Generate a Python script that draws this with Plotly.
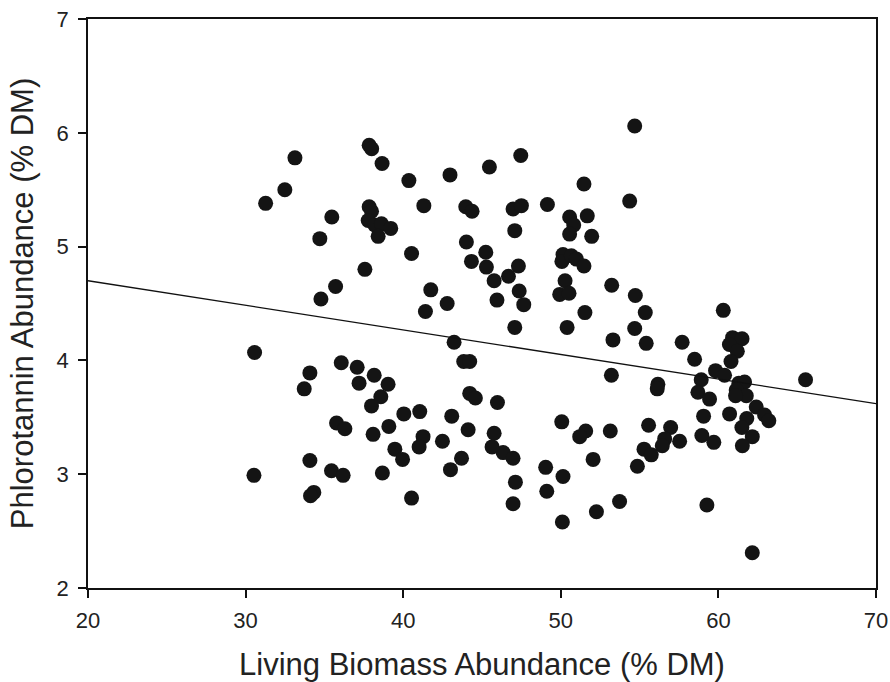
import plotly.graph_objects as go

living_biomass = [
    33.13, 32.49, 31.27, 37.84, 38.0, 38.66, 40.36, 42.97, 45.47, 47.46,
    35.47, 34.71, 37.84, 37.99, 37.78, 38.2, 38.62, 39.21, 38.41, 41.31,
    43.97, 44.37, 46.97, 47.5, 47.08, 44.01, 45.24, 44.33, 45.28, 45.77,
    46.68, 47.31, 40.53, 37.57, 35.71, 34.78, 41.75, 42.79, 41.41, 45.95,
    47.36, 47.65, 47.08, 43.23, 30.57,
    54.69, 51.47, 54.37, 49.15, 50.56, 51.68, 50.82, 50.56, 51.96, 50.14,
    50.07, 50.67, 50.99, 51.47, 50.27, 49.93, 50.52, 53.23, 54.73, 55.36,
    51.53, 50.4, 54.69, 53.31, 55.42, 57.7, 60.31,
    60.9, 61.5, 60.7, 61.2, 60.8, 58.49, 59.82, 60.39, 58.91, 58.70,
    59.44, 61.3, 61.66, 61.13, 61.77, 61.09, 65.53, 62.40, 62.93, 63.2,
    61.80, 61.49, 62.15, 61.52, 60.71, 59.06, 58.95, 59.71, 59.27, 62.15,
    53.21, 56.16, 56.12, 50.06, 51.58, 51.2, 53.14, 55.57, 56.97, 57.54,
    56.59, 56.44, 55.28, 55.74, 54.86, 52.05, 49.04, 50.14, 49.11, 53.73,
    52.26, 50.1, 46.34, 46.97, 47.12, 46.97,
    30.53, 43.84, 44.22, 34.08, 33.72, 36.07, 37.08, 38.16, 37.2, 39.04,
    38.58, 37.99, 40.04, 41.05, 43.08, 44.22, 44.58, 45.98, 35.77, 36.3,
    38.09, 39.09, 39.47, 39.96, 41.26, 41.01, 42.49, 44.12, 45.77, 45.64,
    43.7, 43.0, 34.08, 35.45, 36.19, 38.68, 34.33, 34.12, 40.53,
]

phlorotannin = [
    5.78, 5.50, 5.38, 5.89, 5.86, 5.73, 5.58, 5.63, 5.70, 5.80,
    5.26, 5.07, 5.35, 5.31, 5.23, 5.19, 5.20, 5.16, 5.09, 5.36,
    5.35, 5.31, 5.33, 5.36, 5.14, 5.04, 4.95, 4.87, 4.82, 4.70,
    4.74, 4.83, 4.94, 4.80, 4.65, 4.54, 4.62, 4.50, 4.43, 4.53,
    4.61, 4.49, 4.29, 4.16, 4.07,
    6.06, 5.55, 5.40, 5.37, 5.26, 5.27, 5.19, 5.11, 5.09, 4.93,
    4.87, 4.92, 4.89, 4.83, 4.70, 4.58, 4.59, 4.66, 4.57, 4.42,
    4.42, 4.29, 4.28, 4.18, 4.15, 4.16, 4.44,
    4.20, 4.19, 4.14, 4.08, 3.99, 4.01, 3.91, 3.87, 3.83, 3.72,
    3.66, 3.80, 3.81, 3.74, 3.69, 3.69, 3.83, 3.59, 3.52, 3.47,
    3.49, 3.41, 3.33, 3.25, 3.53, 3.51, 3.34, 3.28, 2.73, 2.31,
    3.87, 3.79, 3.75, 3.46, 3.38, 3.33, 3.38, 3.43, 3.41, 3.29,
    3.31, 3.25, 3.22, 3.17, 3.07, 3.13, 3.06, 2.98, 2.85, 2.76,
    2.67, 2.58, 3.19, 3.14, 2.93, 2.74,
    2.99, 3.99, 3.99, 3.89, 3.75, 3.98, 3.94, 3.87, 3.80, 3.79,
    3.68, 3.60, 3.53, 3.55, 3.51, 3.71, 3.67, 3.63, 3.45, 3.40,
    3.35, 3.42, 3.22, 3.13, 3.33, 3.24, 3.29, 3.39, 3.36, 3.24,
    3.14, 3.04, 3.12, 3.03, 2.99, 3.01, 2.84, 2.81, 2.79,
]

fit_x = [20, 70]
fit_y = [4.70, 3.62]

x_ticks = [20, 30, 40, 50, 60, 70]
y_ticks = [2, 3, 4, 5, 6, 7]

fig = go.Figure()
fig.add_trace(go.Scatter(
    x=living_biomass, y=phlorotannin, mode="markers",
    marker=dict(size=15, color="#141414", line=dict(width=0)),
    showlegend=False, hoverinfo="x+y",
))
fig.add_trace(go.Scatter(
    x=fit_x, y=fit_y, mode="lines",
    line=dict(color="#111111", width=1.3),
    showlegend=False, hoverinfo="skip",
))

font_family = "Liberation Sans, Arial, sans-serif"
axis_common = dict(
    showgrid=False, zeroline=False, showline=True, mirror=True,
    linecolor="#111111", linewidth=1.5,
    ticks="outside", ticklen=8, tickwidth=1.5, tickcolor="#111111",
    tickfont=dict(family=font_family, size=22, color="#222222"),
    automargin=False,
)

fig.update_layout(
    width=890, height=682,
    margin=dict(l=88, r=14, t=19, b=94, autoexpand=False),
    paper_bgcolor="white", plot_bgcolor="white",
    xaxis=dict(
        range=[20, 70], tickvals=x_ticks, ticktext=[str(v) for v in x_ticks],
        ticklabelstandoff=4,
        title=dict(text="Living Biomass Abundance (% DM)",
                   font=dict(family=font_family, size=31, color="#222222"),
                   standoff=28),
        **axis_common,
    ),
    yaxis=dict(
        range=[2, 7], tickvals=y_ticks, ticktext=[str(v) for v in y_ticks],
        ticklabelstandoff=5,
        title=dict(text="Phlorotannin Abundance (% DM)",
                   font=dict(family=font_family, size=31, color="#222222"),
                   standoff=14),
        **axis_common,
    ),
)

fig.write_html("out.html")
